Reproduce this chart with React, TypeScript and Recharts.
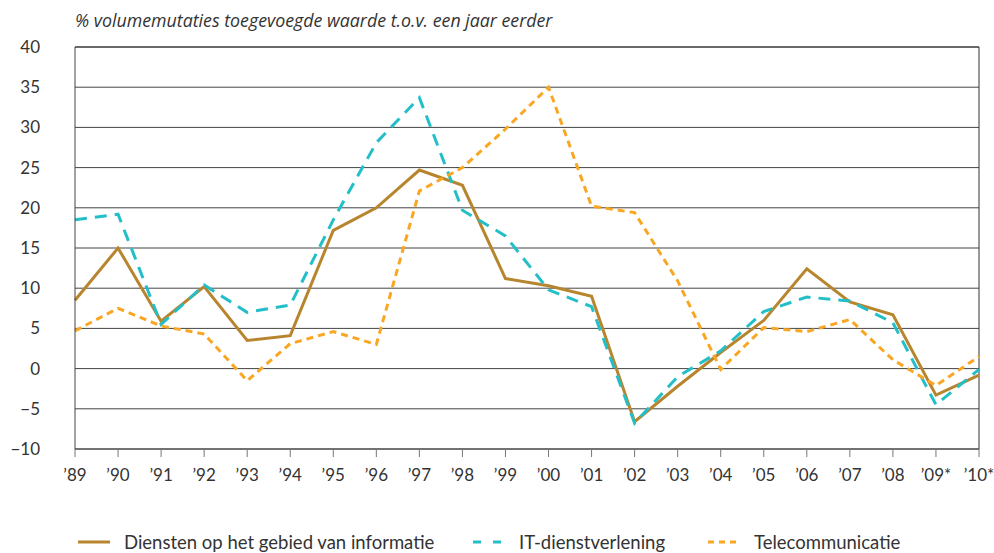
import {
  LineChart,
  Line,
  XAxis,
  YAxis,
  CartesianGrid,
  Legend,
  ReferenceLine,
} from "recharts";

const years = [
  "’89", "’90", "’91", "’92", "’93", "’94", "’95", "’96", "’97", "’98", "’99",
  "’00", "’01", "’02", "’03", "’04", "’05", "’06", "’07", "’08", "’09*", "’10*",
];

const diensten = [
  8.5, 15.0, 5.9, 10.2, 3.5, 4.1, 17.2, 20.0, 24.7, 22.8, 11.2,
  10.3, 9.0, -6.6, -2.2, 2.0, 6.0, 12.4, 8.3, 6.7, -3.3, -0.8,
];
const itDienst = [
  18.5, 19.2, 5.5, 10.4, 7.0, 7.9, 18.5, 28.1, 33.7, 19.7, 16.5,
  9.8, 7.7, -6.8, -1.0, 2.2, 7.1, 8.9, 8.4, 5.7, -4.5, -0.1,
];
const telecom = [
  4.7, 7.5, 5.3, 4.3, -1.5, 3.1, 4.6, 3.0, 22.1, 25.0, 29.8,
  35.0, 20.2, 19.4, 10.9, -0.1, 5.1, 4.6, 6.1, 1.1, -2.1, 1.5,
];
const yTicks = [-10, -5, 0, 5, 10, 15, 20, 25, 30, 35, 40];

const data = years.map((y, i) => ({
  year: y,
  diensten: diensten[i],
  it: itDienst[i],
  telecom: telecom[i],
}));

const FONT = "Lato, 'Open Sans', sans-serif";
const BROWN = "#b8852f";
const TEAL = "#22bfc9";
const ORANGE = "#f9a623";

const legendItems = [
  { label: "Diensten op het gebied van informatie", color: BROWN, dash: undefined, left: 78 },
  { label: "IT-dienstverlening", color: TEAL, dash: "8 12", left: 473 },
  { label: "Telecommunicatie", color: ORANGE, dash: "6 5", left: 708 },
];

const renderLegend = () => (
  <div style={{ position: "relative", height: 28, fontFamily: FONT, fontSize: 18.5, lineHeight: "22px", color: "#333" }}>
    {legendItems.map((it) => (
      <div
        key={it.label}
        style={{ position: "absolute", left: it.left, top: 6, height: 22, display: "flex", alignItems: "center", whiteSpace: "nowrap" }}
      >
        <svg width={32} height={20}>
          <line x1={0} y1={10} x2={32} y2={10} stroke={it.color} strokeWidth={3} strokeDasharray={it.dash} />
        </svg>
        <span style={{ marginLeft: 14 }}>{it.label}</span>
      </div>
    ))}
  </div>
);

export default function App() {
  return (
    <div style={{ position: "absolute", left: 0, top: 0, width: 994, height: 553, background: "#fff" }}>
      <div
        style={{
          position: "absolute",
          left: 75,
          top: 8,
          fontFamily: "'Open Sans', sans-serif",
          fontStyle: "italic",
          fontSize: 17.8,
          lineHeight: "24px",
          color: "#333",
        }}
      >
        % volumemutaties toegevoegde waarde t.o.v. een jaar eerder
      </div>
      <LineChart
        width={994}
        height={553}
        data={data}
        margin={{ top: 47, right: 15, bottom: 0, left: 0 }}
      >
        <CartesianGrid horizontal vertical={false} stroke="#444" strokeOpacity={1} />
        <XAxis
          dataKey="year"
          height={76}
          tickSize={8}
          tickMargin={12}
          axisLine={{ stroke: "#444" }}
          tickLine={{ stroke: "#777" }}
          tick={{ fill: "#333", fontFamily: FONT, fontSize: 17 }}
          interval={0}
        />
        <YAxis
          width={75}
          domain={[-10, 40]}
          ticks={yTicks}
          tickSize={0}
          tickMargin={35}
          axisLine={{ stroke: "#444" }}
          tickLine={false}
          tickFormatter={(v: number) => (v < 0 ? "−" + Math.abs(v) : String(v))}
          tick={{ fill: "#333", fontFamily: FONT, fontSize: 17 }}
        />
        <ReferenceLine y={40} stroke="#333" ifOverflow="visible" />
        <ReferenceLine x={years[years.length - 1]} stroke="#333" ifOverflow="visible" />
        <Legend verticalAlign="bottom" content={renderLegend} />
        <Line
          dataKey="diensten"
          stroke={BROWN}
          strokeWidth={3}
          dot={false}
          isAnimationActive={false}
        />
        <Line
          dataKey="it"
          stroke={TEAL}
          strokeWidth={3}
          strokeDasharray="12 8"
          dot={false}
          isAnimationActive={false}
        />
        <Line
          dataKey="telecom"
          stroke={ORANGE}
          strokeWidth={3}
          strokeDasharray="7 5"
          dot={false}
          isAnimationActive={false}
        />
      </LineChart>
    </div>
  );
}
